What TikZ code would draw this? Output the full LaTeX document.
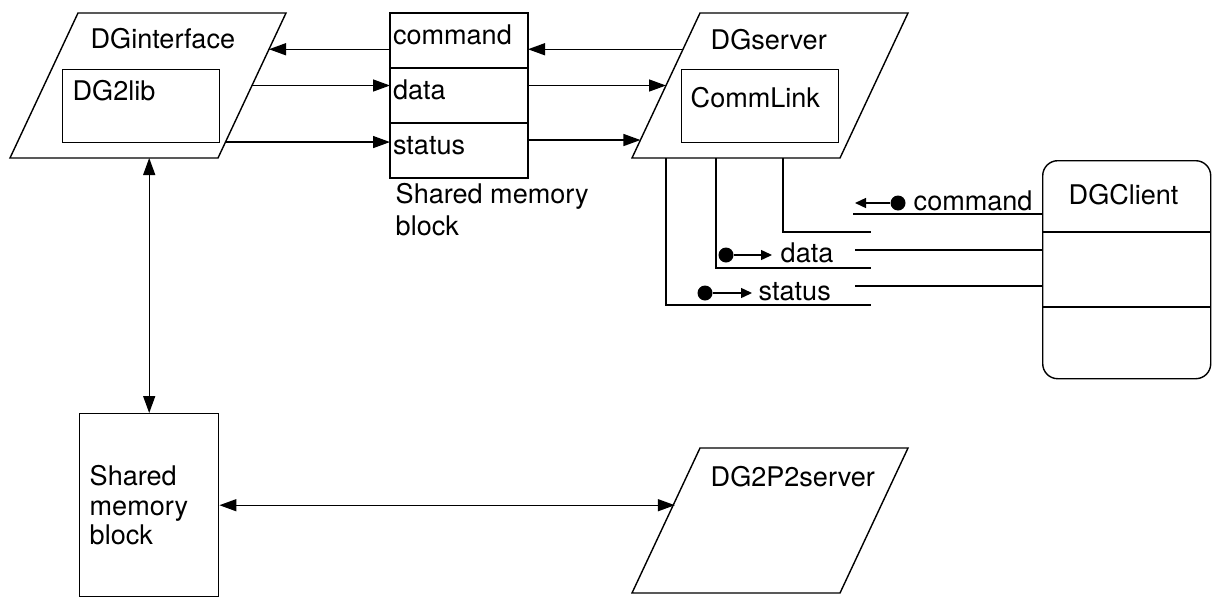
\documentclass[tikz,border=0pt]{standalone}
\usepackage{fontspec}
\setmainfont{TeX Gyre Heros}
\usetikzlibrary{positioning,calc,arrows.meta}
\tikzset{
	slantbox/.pic = {
	 \coordinate (-bl) at (0,0) ;
	 \coordinate (-br) at (4.16,0) ;
	 \coordinate (-tr) at (5.52,2.9) ;
	 \coordinate (-tl) at (1.36,2.9) ;
	 \draw (-bl) -- (-br) -- (-tr) -- (-tl) -- cycle;
	 }
	}

\begin{document}
\begin{tikzpicture}[node distance=1, line width=0.8pt,
  >={Triangle[length=0.34cm,width=0.24cm]},
  font=\fontsize{15.4}{18}\selectfont,
  txt/.style={inner sep=0pt, anchor=base west},
  memrow/.style={draw, minimum width=2.76cm, minimum height=1.1cm, text width=2.64cm,
    inner xsep=0.06cm, inner ysep=0pt, outer sep=0pt, align=left,
    text height=0.8em, text depth=0.35em},
  libbox/.style={draw, anchor=north west, minimum width=3.14cm, minimum height=1.46cm},
  dot/.style={circle, fill, inner sep=0pt, minimum size=0.3cm},
  smallarr/.style={-{Triangle[length=0.22cm,width=0.2cm]}}]

\useasboundingbox (0,0) rectangle (24.26,-11.92);

% NODES

% DGinterface
\pic (iface) at (0.2,-3.16) {slantbox};
\node (ifacelabel) [txt] at (1.8,-0.96) {DGinterface};
\node (lib) [libbox] at (1.24,-1.38) {};
\node (liblabel) [txt] at (1.44,-2.0) {DG2lib};

% shared memory block, top
\node (cmd) [memrow, anchor=north west] at (7.8,-0.26) {command};
\node (data) [memrow, below=0 of cmd] {data};
\node (stat) [memrow, below=0 of data] {status};
\node (memlabel) [below=0.1 of stat.south west, anchor=north west, xshift=0.1cm,
  inner sep=0pt, align=left, font=\fontsize{15.4}{18.2}\selectfont] {Shared memory\\block};

% DGserver
\pic (srv) at (12.64,-3.16) {slantbox};
\node (srvlabel) [txt] at (14.2,-0.98) {DGserver};
\node (link) [libbox] at (13.62,-1.38) {};
\node (linklabel) [txt] at (13.8,-2.14) {CommLink};

% DGClient
\node (client) [draw, anchor=north west, rounded corners=0.3cm,
  minimum width=3.36cm, minimum height=4.36cm] at (20.84,-3.2) {};
\node (clientlabel) [txt] at (21.36,-4.08) {DGClient};

% dots and labels
\node (cmddot) [dot] at (17.96,-4.06) {};
\coordinate (cmdtip) at (17.1,-4.06);
\node (cmdlabel) [txt] at (18.26,-4.2) {command};
\node (datadot) [dot] at (14.52,-5.1) {};
\coordinate (datatip) at (15.44,-5.1);
\node (datalabel) [txt] at (15.6,-5.24) {data};
\node (statdot) [dot] at (14.1,-5.86) {};
\coordinate (stattip) at (15.04,-5.86);
\node (statlabel) [txt] at (15.16,-6.0) {status};

% bracket ends and line starts
\coordinate (cmdbrk) at (17.42,-4.64);
\coordinate (databrk) at (17.42,-5.36);
\coordinate (statbrk) at (17.42,-6.1);
\coordinate (cmdline) at (17.06,-4.28);
\coordinate (dataline) at (17.1,-5.0);
\coordinate (statline) at (17.1,-5.72);

% shared memory block, bottom
\node (lowmem) [draw, anchor=north west, minimum width=2.78cm, minimum height=3.66cm,
  text width=2.38cm, inner xsep=0.2cm, align=left,
  font=\fontsize{15.4}{17}\selectfont] at (1.58,-8.26) {Shared\\memory\\block};

% DG2P2server
\pic (p2) at (12.64,-11.86) {slantbox};
\node (p2label) [txt] at (14.2,-9.72) {DG2P2server};

%CONNECTIONS
\coordinate (ifcmd) at ($(iface-tr)!0.25!(iface-br)$);
\coordinate (ifdata) at ($(iface-tr)!0.5!(iface-br)$);
\coordinate (ifstat) at ($(iface-tr)!0.89!(iface-br)$);
\draw [->] (cmd.west |- ifcmd) -- (ifcmd);
\draw [->] (ifdata) -- (ifdata -| data.west);
\draw [->] (ifstat) -- (ifstat -| stat.west);

\coordinate (srvcmd) at ($(srv-tl)!0.25!(srv-bl)$);
\coordinate (srvdata) at ($(srv-tl)!0.5!(srv-bl)$);
\coordinate (srvstat) at ($(srv-tl)!0.876!(srv-bl)$);
\draw [->] (srvcmd) -- (srvcmd -| cmd.east);
\draw [->] (data.east |- srvdata) -- (srvdata);
\draw [->] (stat.east |- srvstat) -- (srvstat);

\draw ([xshift=3.02cm]srv-bl) |- (cmdbrk);
\draw ([xshift=1.68cm]srv-bl) |- (databrk);
\draw ([xshift=0.68cm]srv-bl) |- (statbrk);
\draw (cmdline) -- (cmdline -| client.west);
\draw (dataline) -- (dataline -| client.west);
\draw (statline) -- (statline -| client.west);
\draw ([yshift=-1.44cm]client.north west) -- ([yshift=-1.44cm]client.north east);
\draw ([yshift=-2.94cm]client.north west) -- ([yshift=-2.94cm]client.north east);

\draw [smallarr] (cmddot) -- (cmdtip);
\draw [smallarr] (datadot) -- (datatip);
\draw [smallarr] (statdot) -- (stattip);

\draw [<->] (iface-bl -| lowmem.north) -- (lowmem.north);
\coordinate (p2in) at ($(p2-tl)!0.37!(p2-bl)$);
\draw [<->] (lowmem.east) -- (lowmem.east -| p2in);

\end{tikzpicture}
\end{document}
